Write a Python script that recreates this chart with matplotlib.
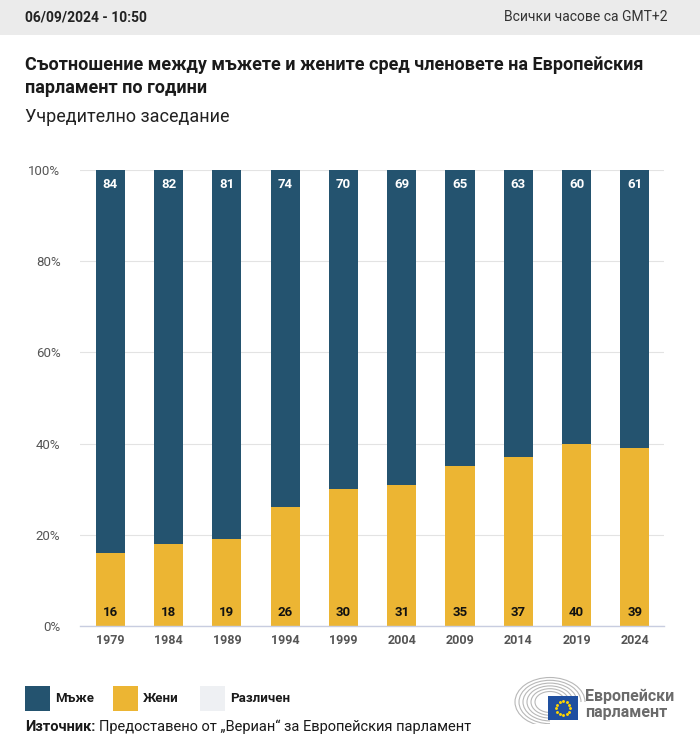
import matplotlib
matplotlib.use("Agg")
import matplotlib.pyplot as plt
from matplotlib.patches import Rectangle, Arc
import numpy as np

plt.rcParams['font.family'] = ['Roboto', 'DejaVu Sans']

years = ["1979", "1984", "1989", "1994", "1999", "2004", "2009", "2014", "2019", "2024"]
men = [84, 82, 81, 74, 70, 69, 65, 63, 60, 61]
women = [16, 18, 19, 26, 30, 31, 35, 37, 40, 39]
yticks = [0, 20, 40, 60, 80, 100]
ytick_labels = ["0%", "20%", "40%", "60%", "80%", "100%"]
legend_labels = ["Мъже", "Жени", "Различен"]

C_MEN = "#24536f"
C_WOMEN = "#ecb533"
C_OTHER = "#eef0f3"

W, H = 700, 752
fig = plt.figure(figsize=(W / 100, H / 100), dpi=100)

def fx(px):
    return px / W

def fy(py):
    return 1 - py / H

# header band
fig.patches.append(Rectangle((0, fy(35)), 1, 35 / H, transform=fig.transFigure,
                             facecolor="#ebebeb", edgecolor="none", zorder=0))
fig.text(fx(25), fy(17), "06/09/2024 - 10:50", fontsize=10, fontweight="bold",
         color="#222222", va="center", ha="left")
fig.text(fx(668), fy(17), "Всички часове са GMT+2", fontsize=10,
         color="#333333", va="center", ha="right")

fig.text(fx(25), fy(65), "Съотношение между мъжете и жените сред членовете на Европейския",
         fontsize=13, fontweight="bold", color="#1a1a1a", va="center", ha="left")
fig.text(fx(25), fy(88), "парламент по години",
         fontsize=13, fontweight="bold", color="#1a1a1a", va="center", ha="left")
fig.text(fx(25), fy(117), "Учредително заседание",
         fontsize=13, color="#222222", va="center", ha="left")

# axes
ax = fig.add_axes([fx(80), fy(626), fx(664) - fx(80), (626 - 170) / H])
x = np.arange(len(years))
bw = 0.5
ax.bar(x, women, width=bw, color=C_WOMEN, zorder=3)
ax.bar(x, men, width=bw, bottom=women, color=C_MEN, zorder=3)
for i in range(len(years)):
    ax.text(x[i], 100 - 3.2, str(men[i]), ha="center", va="center",
            color="white", fontsize=9.5, fontweight="bold", zorder=4)
    ax.text(x[i], 2.9, str(women[i]), ha="center", va="center",
            color="#111111", fontsize=9.5, fontweight="bold", zorder=4)

ax.set_xlim(-0.52, 9.5)
ax.set_ylim(0, 100)
ax.set_yticks(yticks)
ax.set_yticklabels(ytick_labels)
ax.set_xticks(x)
ax.set_xticklabels(years)
ax.tick_params(axis="both", length=0, labelcolor="#555555")
ax.tick_params(axis="y", pad=14, labelsize=9.5)
ax.tick_params(axis="x", pad=6, labelsize=9)
for lbl in ax.get_xticklabels():
    lbl.set_fontweight("bold")
ax.grid(axis="y", color="#e3e3e3", linewidth=0.8, zorder=0)
for s in ["top", "right", "left"]:
    ax.spines[s].set_visible(False)
ax.spines["bottom"].set_color("#c8cde0")
ax.spines["bottom"].set_linewidth(1)
ax.spines["bottom"].set_zorder(5)

# legend
leg_x = [25, 113, 200]
for lx, lab, col in zip(leg_x, legend_labels, [C_MEN, C_WOMEN, C_OTHER]):
    fig.patches.append(Rectangle((fx(lx), fy(711)), 25 / W, 25 / H,
                                 transform=fig.transFigure, facecolor=col,
                                 edgecolor="none"))
    fig.text(fx(lx + 30), fy(699), lab, fontsize=9.5, fontweight="bold",
             color="#1a1a1a", va="center", ha="left")

fig.text(fx(25), fy(727), "Източник:", fontsize=10.5, fontweight="bold",
         color="#1a1a1a", va="center", ha="left")
fig.text(fx(99), fy(727), "Предоставено от „Вериан“ за Европейския парламент",
         fontsize=10.5, color="#1a1a1a", va="center", ha="left")

# logo
lax = fig.add_axes([fx(510), fy(724), fx(90), 50 / H])
lax.set_xlim(0, 90)
lax.set_ylim(0, 50)
lax.axis("off")
for r in range(6):
    w = 70 - r * 8
    lax.add_patch(Arc((40, 22), w, w * 0.7, theta1=90, theta2=270,
                      color="#b8b8b8", linewidth=0.8))
    lax.add_patch(Arc((40, 22), w, w * 0.7, theta1=0, theta2=90,
                      color="#b8b8b8", linewidth=0.8))
lax.add_patch(Rectangle((38, 4), 30, 24, facecolor="#1f4fa0", edgecolor="none"))
ang = np.linspace(0, 2 * np.pi, 12, endpoint=False)
lax.scatter(53 + 7 * np.cos(ang), 16 + 7 * np.sin(ang), s=1.2, color="#ffd400", zorder=5)
fig.text(fx(585), fy(696), "Европейски", fontsize=11.5, fontweight="bold",
         color="#6b6b6b", va="center", ha="left")
fig.text(fx(585), fy(713), "парламент", fontsize=11.5, fontweight="bold",
         color="#6b6b6b", va="center", ha="left")

fig.savefig("out.png", dpi=100)
